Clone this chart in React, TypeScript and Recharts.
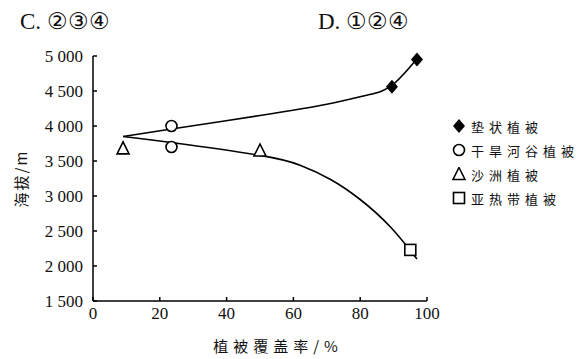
import {
  ComposedChart,
  Line,
  Scatter,
  XAxis,
  YAxis,
} from 'recharts';

// curves (vegetation cover %, altitude m)
const upperCurve = [
  { x: 9, y: 3850 },
  { x: 24, y: 3960 },
  { x: 50, y: 4150 },
  { x: 70, y: 4310 },
  { x: 82, y: 4440 },
  { x: 89.5, y: 4580 },
  { x: 97, y: 4960 },
];
const lowerCurve = [
  { x: 9, y: 3850 },
  { x: 24, y: 3760 },
  { x: 50, y: 3580 },
  { x: 62, y: 3440 },
  { x: 71, y: 3240 },
  { x: 80, y: 2950 },
  { x: 89, y: 2560 },
  { x: 97, y: 2100 },
];

// sample points
const cushionPts = [
  { x: 89.5, y: 4560 },
  { x: 97, y: 4950 },
];
const dryValleyPts = [
  { x: 23.5, y: 4000 },
  { x: 23.5, y: 3700 },
];
const sandbarPts = [
  { x: 9, y: 3680 },
  { x: 50, y: 3650 },
];
const subtropicalPts = [{ x: 95, y: 2230 }];

const yTicks = [1500, 2000, 2500, 3000, 3500, 4000, 4500, 5000];
const xTicks = [0, 20, 40, 60, 80, 100];

const legendItems = [
  { name: '垫状植被', shape: 'diamond' },
  { name: '干旱河谷植被', shape: 'circle' },
  { name: '沙洲植被', shape: 'triangle' },
  { name: '亚热带植被', shape: 'square' },
];

const SERIF = '"Liberation Serif", "Times New Roman", serif';
const CJK = '"Noto Sans CJK SC", sans-serif';
const TICK_STYLE = { fill: '#111', fontSize: 17, fontFamily: SERIF };

function fmt(v: number): string {
  const s = String(v);
  return s.length > 3 ? s.slice(0, s.length - 3) + ' ' + s.slice(-3) : s;
}

function Marker({ shape, cx, cy }: { shape: string; cx: number; cy: number }) {
  const sw = 1.6;
  if (shape === 'diamond') {
    return (
      <polygon
        points={`${cx},${cy - 7} ${cx + 6},${cy} ${cx},${cy + 7} ${cx - 6},${cy}`}
        fill="#000"
      />
    );
  }
  if (shape === 'circle') {
    return <circle cx={cx} cy={cy} r={5.5} fill="#fff" stroke="#000" strokeWidth={sw} />;
  }
  if (shape === 'triangle') {
    return (
      <polygon
        points={`${cx},${cy - 6.5} ${cx + 6},${cy + 5.5} ${cx - 6},${cy + 5.5}`}
        fill="#fff"
        stroke="#000"
        strokeWidth={sw}
      />
    );
  }
  return (
    <rect x={cx - 5.5} y={cy - 5.5} width={11} height={11} fill="#fff" stroke="#000" strokeWidth={sw} />
  );
}

const shapeFor = (shape: string) => (p: any) => <Marker shape={shape} cx={p.cx} cy={p.cy} />;

function LegendBox() {
  return (
    <div
      style={{
        position: 'absolute',
        left: 452,
        top: 114,
        fontFamily: CJK,
        fontSize: 13,
        color: '#111',
      }}
    >
      {legendItems.map((it) => (
        <div key={it.name} style={{ display: 'flex', alignItems: 'center', height: 24 }}>
          <svg width={14} height={14} style={{ marginRight: 5 }}>
            <Marker shape={it.shape} cx={7} cy={7} />
          </svg>
          <span style={{ letterSpacing: 5 }}>{it.name}</span>
        </div>
      ))}
    </div>
  );
}

function YLabel(props: any) {
  const { viewBox } = props;
  const x = viewBox.x - 13;
  const y = viewBox.y + viewBox.height / 2;
  return (
    <text
      x={x}
      y={y}
      transform={`rotate(-90 ${x} ${y})`}
      textAnchor="middle"
      dominantBaseline="central"
      fontSize={15}
      fontFamily={CJK}
      letterSpacing={2}
      fill="#111"
    >
      海拔/m
    </text>
  );
}

function XLabel(props: any) {
  const { viewBox } = props;
  return (
    <text
      x={viewBox.x + viewBox.width / 2 + 18}
      y={viewBox.y + 44}
      textAnchor="middle"
      dominantBaseline="central"
      fontSize={15}
      fontFamily={CJK}
      letterSpacing={5}
      fill="#111"
    >
      植被覆盖率/%
    </text>
  );
}

export default function App() {
  return (
    <div style={{ position: 'absolute', left: 0, top: 0, width: 588, height: 359, background: '#fff' }}>
      <ComposedChart
        width={588}
        height={359}
        margin={{ top: 56, right: 161, bottom: 28, left: 33 }}
        style={{ position: 'absolute', left: 0, top: 0 }}
      >
        <XAxis
          type="number"
          dataKey="x"
          domain={[0, 100]}
          ticks={xTicks}
          interval={0}
          height={30}
          tick={TICK_STYLE}
          tickSize={-4}
          tickMargin={10}
          axisLine={{ stroke: '#000', strokeWidth: 1.5 }}
          tickLine={{ stroke: '#000', strokeWidth: 1.5 }}
          label={<XLabel />}
        />
        <YAxis
          type="number"
          dataKey="y"
          domain={[1500, 5000]}
          ticks={yTicks}
          interval={0}
          width={60}
          tick={TICK_STYLE}
          tickFormatter={fmt}
          tickSize={-4}
          tickMargin={14}
          axisLine={{ stroke: '#000', strokeWidth: 1.5 }}
          tickLine={{ stroke: '#000', strokeWidth: 1.5 }}
          label={<YLabel />}
        />
        <Line
          data={upperCurve}
          dataKey="y"
          type="natural"
          stroke="#000"
          strokeWidth={1.6}
          dot={false}
          isAnimationActive={false}
        />
        <Line
          data={lowerCurve}
          dataKey="y"
          type="natural"
          stroke="#000"
          strokeWidth={1.6}
          dot={false}
          isAnimationActive={false}
        />
        <Scatter data={cushionPts} dataKey="y" shape={shapeFor('diamond')} isAnimationActive={false} />
        <Scatter data={dryValleyPts} dataKey="y" shape={shapeFor('circle')} isAnimationActive={false} />
        <Scatter data={sandbarPts} dataKey="y" shape={shapeFor('triangle')} isAnimationActive={false} />
        <Scatter data={subtropicalPts} dataKey="y" shape={shapeFor('square')} isAnimationActive={false} />
      </ComposedChart>
      <div style={{ position: 'absolute', left: 20, top: 8, fontFamily: SERIF, fontSize: 23, color: '#111' }}>
        C. ②③④
      </div>
      <div style={{ position: 'absolute', left: 318, top: 8, fontFamily: SERIF, fontSize: 23, color: '#111' }}>
        D. ①②④
      </div>
      <LegendBox />
    </div>
  );
}
